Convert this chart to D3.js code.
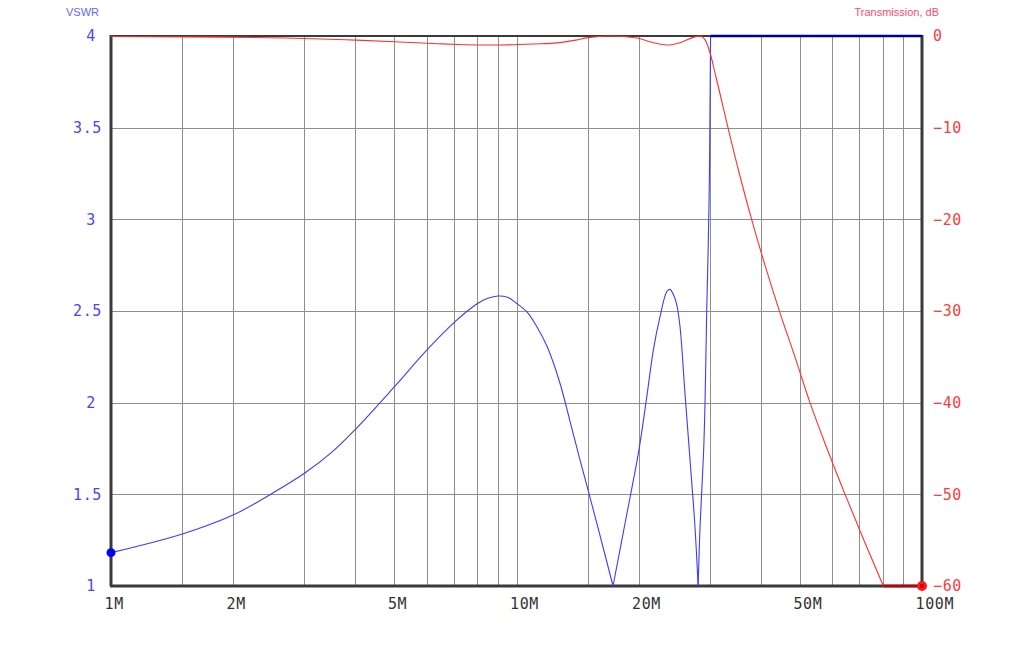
<!DOCTYPE html>
<html><head><meta charset="utf-8">
<script src="https://cdn.jsdelivr.net/npm/d3@7"></script>
<style>body{margin:0;background:#fff}</style>
</head><body><svg id="c" width="1023" height="645"></svg>
<script>
// ---- data ----
const freqGridMHz = [1.5,2,3,4,5,6,7,8,9,10,15,20,30,40,50,60,70,80,90];
const freqLabelsMHz = [1,2,5,10,20,50,100];
const vswrTicks = [1,1.5,2,2.5,3,3.5,4];
const dbTicks = [0,-10,-20,-30,-40,-50,-60];

const vswrFreq = [1.0,1.5,2.0,2.5,3.0,3.5,4.0,5.0,6.0,7.0,7.5,8.0,8.5,9.0,9.5,10.0,10.6,11.2,11.9,12.8,13.7,14.3,15.0,16.1,17.3,18.7,20.0,20.95,21.75,22.59,23.47,23.9,24.4,24.84,25.31,26.03,26.79,27.55,28.05,28.35,28.92,29.17,29.45,29.7,29.9,30.0,30.1];
const vswrValues = [1.182,1.284,1.387,1.506,1.615,1.729,1.853,2.087,2.285,2.435,2.493,2.540,2.569,2.582,2.575,2.542,2.496,2.418,2.306,2.106,1.857,1.699,1.527,1.268,1.0,1.39,1.73,2.03,2.287,2.469,2.605,2.618,2.587,2.535,2.414,2.051,1.687,1.323,1.0,1.32,1.72,2.0,2.5,2.85,3.22,3.58,4.0];
const vswrClipFreq = [30.1,100];
const vswrClipValues = [4,4];

const transFreq = [1.0,1.9,2.7,3.3,4.0,5.0,5.7,6.4,7.2,8.2,9.1,11.0,12.8,14.0,15.0,17.0,20.0,21.3,23.5,25.3,27.3,28.3,29.2,30.0,31.05,31.76,33.23,35.58,38.0,41.0,44.65,48.6,52.94,58.3,64.6,71.9,80.3];
const transValues = [-0.05,-0.12,-0.22,-0.32,-0.45,-0.62,-0.74,-0.84,-0.93,-0.98,-0.98,-0.88,-0.72,-0.45,-0.18,0,-0.25,-0.62,-0.98,-0.73,-0.15,0,-0.45,-1.8,-4.5,-6.3,-10.0,-15.3,-20.0,-25.0,-30.2,-35.0,-40.0,-45.0,-50.0,-55.0,-60];
const transClipFreq = [80.3,100];
const transClipValues = [-60,-60];

// ---- layout ----
const L = 111, R = 922, T = 36, B = 586;
const svg = d3.select("#c");
const x = d3.scaleLog().domain([1,100]).range([L,R]);
const yL = d3.scaleLinear().domain([1,4]).range([B,T]);
const yR = d3.scaleLinear().domain([-60,0]).range([B,T]);
const crisp = v => Math.round(v) + 0.5;

// grid
const g = svg.append("g");
g.selectAll("line.v").data(freqGridMHz).join("line")
  .attr("x1", d => crisp(x(d))).attr("x2", d => crisp(x(d)))
  .attr("y1", T).attr("y2", B)
  .attr("stroke", "#8e8e8e").attr("stroke-width", 1);
g.selectAll("line.h").data(vswrTicks.slice(1, -1)).join("line")
  .attr("x1", L).attr("x2", R)
  .attr("y1", d => crisp(yL(d))).attr("y2", d => crisp(yL(d)))
  .attr("stroke", "#8e8e8e").attr("stroke-width", 1);

// frame
svg.append("line").attr("x1", L).attr("x2", R).attr("y1", T).attr("y2", T).attr("stroke", "#3a3a3a").attr("stroke-width", 2);
svg.append("line").attr("x1", L - 1).attr("x2", R + 1.5).attr("y1", B).attr("y2", B).attr("stroke", "#3a3a3a").attr("stroke-width", 3);
svg.append("line").attr("x1", L).attr("x2", L).attr("y1", T - 1).attr("y2", B).attr("stroke", "#3a3a3a").attr("stroke-width", 3);
svg.append("line").attr("x1", R).attr("x2", R).attr("y1", T - 1).attr("y2", B).attr("stroke", "#3a3a3a").attr("stroke-width", 3);

// axes (text only)
const monoFont = "'DejaVu Sans Mono', monospace";
const xAxis = svg.append("g").attr("transform", `translate(0,${B})`)
  .call(d3.axisBottom(x).tickValues(freqLabelsMHz).tickFormat(d => d + "M").tickSize(0).tickPadding(12));
xAxis.select(".domain").remove();
xAxis.selectAll("text").attr("text-anchor", "start").attr("dx", -7)
  .attr("fill", "#333").attr("font-family", monoFont).attr("font-size", 15).attr("letter-spacing", 0.6);

const yAxisL = svg.append("g")
  .call(d3.axisLeft(yL).tickValues(vswrTicks).tickFormat(d3.format("")).tickSize(0));
yAxisL.select(".domain").remove();
yAxisL.selectAll("text").attr("x", d => Number.isInteger(d) ? 96 : 102).attr("text-anchor", "end")
  .attr("fill", "#4646ff").attr("font-family", monoFont).attr("font-size", 15).attr("letter-spacing", 0.6);

const yAxisR = svg.append("g")
  .call(d3.axisRight(yR).tickValues(dbTicks).tickFormat(d3.format("")).tickSize(0));
yAxisR.select(".domain").remove();
yAxisR.selectAll("text").attr("x", 933).attr("text-anchor", "start")
  .attr("fill", "#ff3c3c").attr("font-family", monoFont).attr("font-size", 15).attr("letter-spacing", 0.6);

// titles
svg.append("text").attr("x", 66).attr("y", 16).text("VSWR")
  .attr("fill", "#6666ff").attr("font-family", "'Liberation Sans', Arial, sans-serif").attr("font-size", 11);
svg.append("text").attr("x", 939).attr("y", 16).attr("text-anchor", "end").text("Transmission, dB")
  .attr("fill", "#ff4a6e").attr("font-family", "'Liberation Sans', Arial, sans-serif").attr("font-size", 11);

// VSWR curve: smooth between the sharp minima (value 1.0), drawn as segments
const vswrPts = vswrFreq.map((f, i) => [f, vswrValues[i]]);
const breaks = [0];
vswrPts.forEach((p, i) => { if (i > 0 && i < vswrPts.length - 1 && p[1] <= 1.0) breaks.push(i); });
breaks.push(vswrPts.length - 1);
const vswrLine = d3.line().x(d => x(d[0])).y(d => yL(d[1])).curve(d3.curveCatmullRom.alpha(0.5));
for (let k = 0; k < breaks.length - 1; k++) {
  const seg = vswrPts.slice(breaks[k], breaks[k + 1] + 1);
  svg.append("path").attr("d", vswrLine(seg)).attr("fill", "none").attr("stroke", "#3c3cff").attr("stroke-width", 1.1);
}
const vswrClip = d3.line().x((d, i) => x(vswrClipFreq[i])).y(d => yL(d));
svg.append("path").attr("d", vswrClip(vswrClipValues)).attr("fill", "none").attr("stroke", "#00008c").attr("stroke-width", 2.5);

const transLine = d3.line().x((d, i) => x(transFreq[i])).y(d => yR(d)).curve(d3.curveMonotoneX);
svg.append("path").attr("d", transLine(transValues)).attr("fill", "none").attr("stroke", "#ff3030").attr("stroke-width", 1.1);
const transClip = d3.line().x((d, i) => x(transClipFreq[i])).y(d => yR(d));
svg.append("path").attr("d", transClip(transClipValues)).attr("fill", "none").attr("stroke", "#c00000").attr("stroke-width", 2.5);

// markers
svg.append("circle").attr("cx", x(vswrFreq[0])).attr("cy", yL(vswrValues[0])).attr("r", 4.5).attr("fill", "#0000ff");
svg.append("circle").attr("cx", x(100)).attr("cy", yR(-60)).attr("r", 5).attr("fill", "#ff1a1a");
svg.append("circle").attr("cx", x(100)).attr("cy", yR(-60)).attr("r", 2).attr("fill", "#c00000");
</script></body></html>
